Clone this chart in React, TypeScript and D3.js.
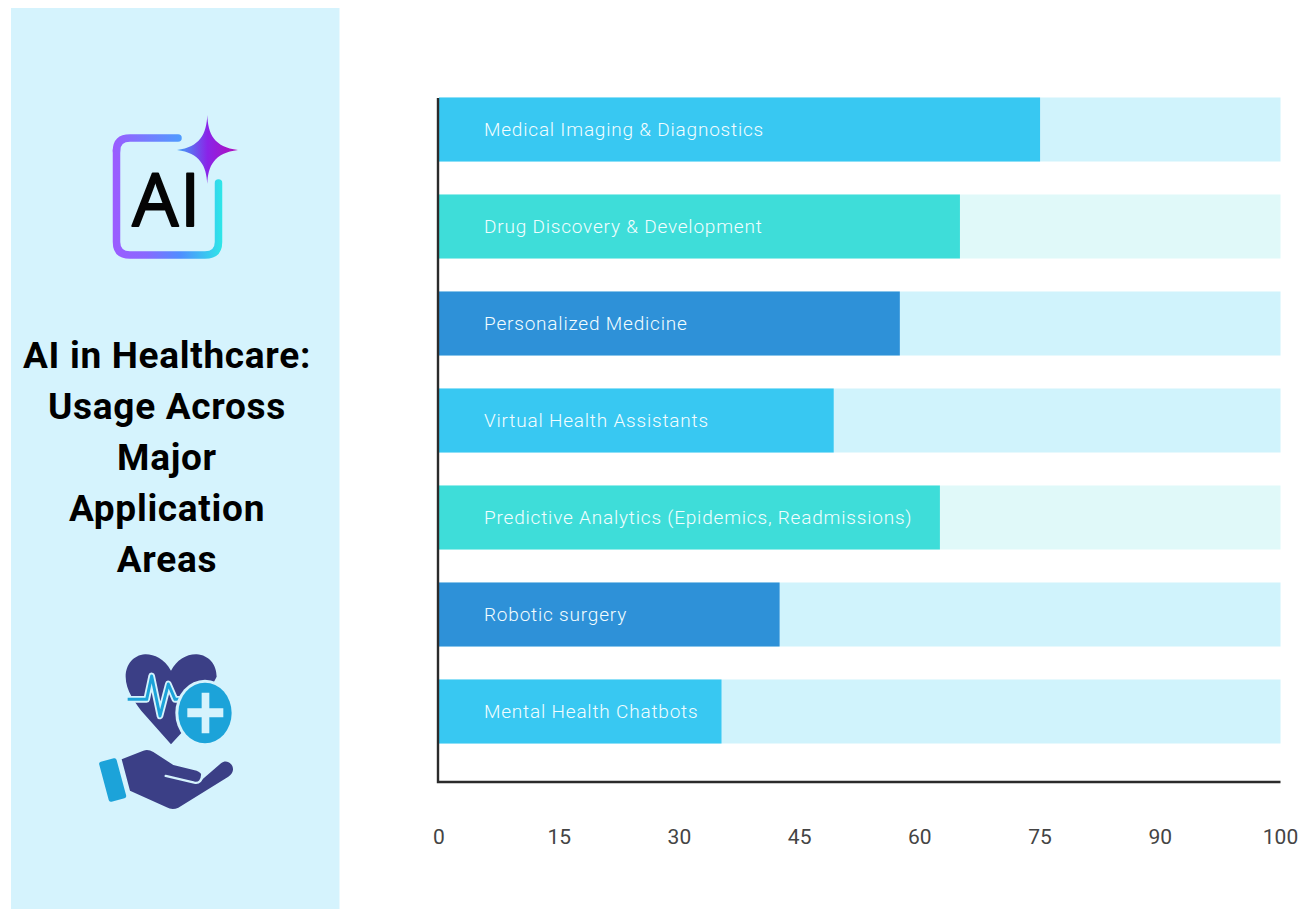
import React from "react";
import * as d3 from "d3";

const categories = [
  "Medical Imaging & Diagnostics",
  "Drug Discovery & Development",
  "Personalized Medicine",
  "Virtual Health Assistants",
  "Predictive Analytics (Epidemics, Readmissions)",
  "Robotic surgery",
  "Mental Health Chatbots",
];
const usage = [75, 65, 57.5, 49.25, 62.5, 42.5, 35.25];
const tickValues = [0, 15, 30, 45, 60, 75, 90, 100];
const barColors = ["#38C8F2", "#3EDDD9", "#2E91D8"];
const trackColors = ["#D0F3FC", "#E0F9F9", "#D0F3FC"];
const titleLines = ["AI in Healthcare:", "Usage Across", "Major", "Application", "Areas"];

const PANEL = "#D5F3FD";
const FONT = "Roboto, sans-serif";

// The ticks sit at equal spacing even though the last step is shorter.
const x = d3
  .scaleLinear()
  .domain(tickValues)
  .range(tickValues.map((_, i) => 439 + (i * (1280.5 - 439)) / (tickValues.length - 1)));

const y = d3
  .scaleBand<string>()
  .domain(categories)
  .range([97.5, 743.5])
  .paddingInner(33 / 97)
  .paddingOuter(0);

function AiBadge() {
  return (
    <g>
      <defs>
        <linearGradient id="frameGrad" gradientUnits="userSpaceOnUse" x1="113" y1="200" x2="222" y2="200">
          <stop offset="0" stopColor="#9B5CFF" />
          <stop offset="0.3" stopColor="#8A68FF" />
          <stop offset="0.62" stopColor="#4F8FFF" />
          <stop offset="1" stopColor="#2FE6E8" />
        </linearGradient>
        <linearGradient id="topGrad" gradientUnits="userSpaceOnUse" x1="113" y1="138" x2="181" y2="138">
          <stop offset="0" stopColor="#9B5CFF" />
          <stop offset="1" stopColor="#4F9BFF" />
        </linearGradient>
        <linearGradient id="starGrad" gradientUnits="userSpaceOnUse" x1="177" y1="150" x2="238" y2="150">
          <stop offset="0" stopColor="#3FA4F8" />
          <stop offset="0.5" stopColor="#8A24E8" />
          <stop offset="1" stopColor="#B20FB8" />
        </linearGradient>
      </defs>
      <path
        d="M116.5 150 L116.5 242 Q116.5 255 130 255 L205 255 Q218.5 255 218.5 242 L218.5 183"
        fill="none"
        stroke="url(#frameGrad)"
        strokeWidth={7.5}
        strokeLinecap="round"
      />
      <path
        d="M178 138 L130 138 Q116.5 138 116.5 151"
        fill="none"
        stroke="url(#topGrad)"
        strokeWidth={7.5}
        strokeLinecap="round"
      />
      <path
        d="M207.3 115 C208 134 214 147 238 150 C214 153 208 166 207.3 184 C206.5 166 200 153 177 150 C200 147 206.5 134 207.3 115 Z"
        fill="url(#starGrad)"
      />
      <text
        x={167}
        y={225.5}
        textAnchor="middle"
        fontFamily="'Open Sans', sans-serif"
        fontSize={73}
        fontWeight={400}
        letterSpacing={1.5}
        fill="#050505"
        stroke="#050505"
        strokeWidth={2}
        strokeLinejoin="round"
      >
        AI
      </text>
    </g>
  );
}

function CareIcon() {
  const navy = "#3B3F86";
  const blue = "#1CA3D9";
  const pulse = "M128 178 L185 178 L200 108 L225 228 L250 132 L270 178 L292 178";
  return (
    <g transform="translate(85,640) scale(0.3333)">
      <path
        d="M258 92 C238 55 205 42 180 43 C145 45 122 75 122 110 C122 150 150 190 180 225 L258 313 L330 235 L395 110 C395 75 372 45 335 43 C305 42 275 60 258 92 Z"
        fill={navy}
      />
      <path
        d={pulse}
        fill="none"
        stroke={PANEL}
        strokeWidth={20}
        strokeLinecap="round"
        strokeLinejoin="round"
      />
      <path d={pulse} fill="none" stroke={blue} strokeWidth={9} strokeLinejoin="round" />
      <ellipse cx={360} cy={219} rx={89} ry={100} fill={PANEL} />
      <ellipse cx={360} cy={219} rx={80} ry={91} fill={blue} />
      <path d="M350 158 H373 V205 H415 V232 H373 V280 H350 V232 H307 V205 H350 Z" fill={PANEL} />
      <path
        d="M110 358 L175 332 Q190 327 205 336 L265 375 L335 392 Q356 400 350 420 L408 370 C425 356 446 372 444 390 Q442 402 430 410 L280 503 Q262 512 245 502 L135 452 Z"
        fill={navy}
      />
      <path
        d="M242 408 L328 428 Q350 432 352 403"
        fill="none"
        stroke={PANEL}
        strokeWidth={7}
        strokeLinecap="round"
      />
      <rect x={56} y={358} width={54} height={124} rx={7} fill={blue} transform="rotate(-15 83 420)" />
    </g>
  );
}

export default function App() {
  const axisX = x(0);
  const axisBottom = 782;
  return (
    <svg
      width={1311}
      height={909}
      style={{ position: "absolute", left: 0, top: 0, background: "#fff" }}
    >
      <rect x={11} y={8} width={328.5} height={901} fill={PANEL} />
      <AiBadge />
      {titleLines.map((line, i) => (
        <text
          key={line}
          x={167}
          y={367.5 + i * 51.2}
          textAnchor="middle"
          fontFamily={FONT}
          fontWeight={700}
          fontSize={37}
          letterSpacing={0.7}
          fill="#000"
        >
          {line}
        </text>
      ))}
      <CareIcon />

      {categories.map((c, i) => (
        <g key={c}>
          <rect
            x={axisX}
            y={y(c)}
            width={x(100) - axisX}
            height={y.bandwidth()}
            fill={trackColors[i % 3]}
          />
          <rect
            x={axisX}
            y={y(c)}
            width={x(usage[i]) - axisX}
            height={y.bandwidth()}
            fill={barColors[i % 3]}
          />
          <text
            x={484}
            y={y(c)! + y.bandwidth() / 2 + 6.5}
            fontFamily={FONT}
            fontSize={19}
            fontWeight={300}
            letterSpacing={0.8}
            fill="#F2FDFF"
          >
            {c}
          </text>
        </g>
      ))}

      <path
        d={`M${axisX - 1} 98 V${axisBottom} H${x(100)}`}
        fill="none"
        stroke="#2B2B2B"
        strokeWidth={2.4}
      />
      {tickValues.map((t) => (
        <text
          key={t}
          x={x(t)}
          y={844}
          textAnchor="middle"
          fontFamily={FONT}
          fontSize={21}
          fontWeight={400}
          fill="#444"
        >
          {t}
        </text>
      ))}
    </svg>
  );
}
